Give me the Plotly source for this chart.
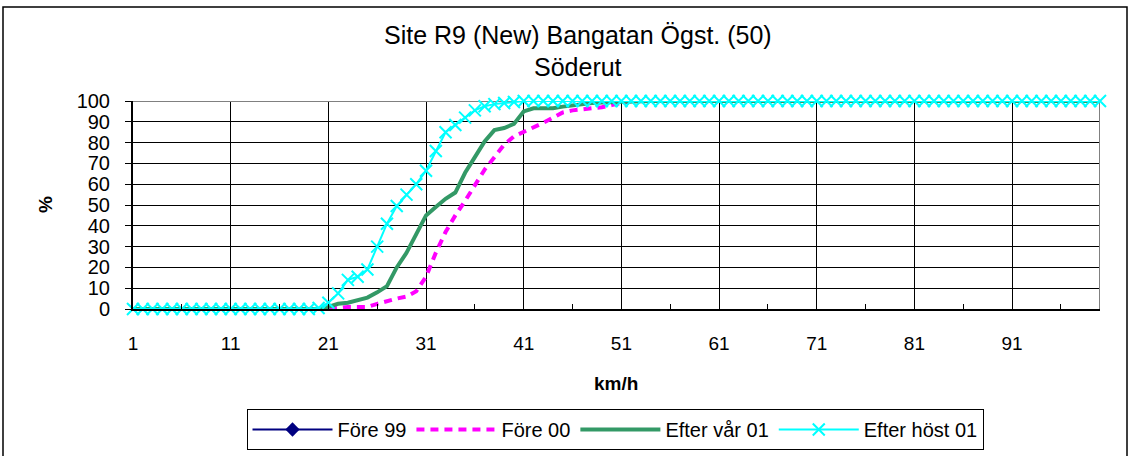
import plotly.graph_objects as go

# ---- data ----
speed = list(range(1, 101))

fore_99 = [None] * 100

fore_00 = ([0] * 21 +
           [0.5, 1, 1, 1, 2.5, 4, 5, 6, 8.5, 15.5, 27, 37, 45, 52, 59.5, 67, 73, 79, 83,
            85, 87, 89.5, 92, 94.5, 95.5, 96, 96.5, 97, 98, 99] +
           [100] * 49)

efter_var_01 = ([0] * 20 +
                [1, 2.5, 3, 4.5, 5.5, 8, 11, 20, 27, 36, 45, 49, 53, 56, 65.5, 73, 80.5, 86, 87, 89,
                 95, 96.5, 96.5, 96.5, 97.3, 98, 98.5, 99, 99.3, 99.5, 99.8] +
                [100] * 49)

efter_host_01 = ([0] * 19 +
                 [0.5, 3, 7.5, 14, 15.5, 19, 30, 41, 49.5, 55, 60, 66.5, 76, 85, 88.5, 92, 95.5,
                  97.5, 98.5, 99, 99.5] +
                 [100] * 60)

x_ticks = list(range(1, 101, 10))
y_ticks = list(range(0, 101, 10))

FONT = "Liberation Sans, Arial, sans-serif"

fig = go.Figure()
fig.add_trace(go.Scatter(x=speed, y=fore_99, name="Före 99", mode="lines+markers",
                         line=dict(color="#000080", width=2),
                         marker=dict(symbol="diamond", size=11, color="#000080")))
fig.add_trace(go.Scatter(x=speed, y=fore_00, name="Före 00", mode="lines",
                         line=dict(color="#FF00FF", width=4, dash="8px,6px")))
fig.add_trace(go.Scatter(x=speed, y=efter_var_01, name="Efter vår 01", mode="lines",
                         line=dict(color="#339966", width=4)))
fig.add_trace(go.Scatter(x=speed, y=efter_host_01, name="Efter höst 01", mode="lines+markers",
                         line=dict(color="#00FFFF", width=2),
                         marker=dict(symbol="x-thin", size=12, color="#00FFFF",
                                     line=dict(color="#00FFFF", width=2)),
                         cliponaxis=False))

L, R, T, B = 133, 30, 101, 147
W, H = 1130, 456
pw, ph = W - L - R, H - T - B

def px_x(p):
    return (p - L) / pw

def px_y(p):
    return (H - B - p) / ph

fig.update_layout(
    width=W, height=H,
    margin=dict(l=L, r=R, t=T, b=B, autoexpand=False),
    paper_bgcolor="white", plot_bgcolor="white",
    font=dict(family=FONT, color="black"),
    showlegend=True,
    legend=dict(orientation="h", x=px_x(615), xanchor="center", y=px_y(409), yanchor="top",
                bordercolor="black", borderwidth=1, font=dict(size=20, family=FONT),
                itemwidth=80, traceorder="normal", bgcolor="white"),
    xaxis=dict(range=[1, 100], tickmode="array", tickvals=x_ticks,
               ticktext=[str(v) for v in x_ticks],
               showgrid=True, gridcolor="black", gridwidth=1,
               showline=True, linecolor="black", linewidth=2,
               ticks="inside", ticklen=5, tickcolor="black",
               minor=dict(ticks="inside", ticklen=5, dtick=5, tick0=1, tickcolor="black",
                          showgrid=False),
               tickfont=dict(size=19, family=FONT), ticklabelstandoff=16,
               zeroline=False),
    yaxis=dict(range=[0, 100], tickmode="array", tickvals=y_ticks,
               showgrid=True, gridcolor="black", gridwidth=1,
               showline=True, linecolor="black", linewidth=2,
               ticks="outside", ticklen=6, tickcolor="black",
               tickfont=dict(size=20, family=FONT), ticklabelstandoff=11,
               zeroline=False),
    annotations=[
        dict(text="Site R9 (New) Bangatan Ögst. (50)", xref="paper", yref="paper",
             x=px_x(578), y=px_y(35), xanchor="center", yanchor="middle",
             showarrow=False, font=dict(size=25, family=FONT)),
        dict(text="Söderut", xref="paper", yref="paper",
             x=px_x(578), y=px_y(66.5), xanchor="center", yanchor="middle",
             showarrow=False, font=dict(size=25, family=FONT)),
        dict(text="<b>%</b>", xref="paper", yref="paper", x=px_x(45), y=px_y(205),
             xanchor="center", yanchor="middle", textangle=-90, showarrow=False,
             font=dict(size=19, family=FONT)),
        dict(text="<b>km/h</b>", xref="paper", yref="paper", x=px_x(616), y=px_y(383),
             xanchor="center", yanchor="middle", showarrow=False,
             font=dict(size=19, family=FONT)),
    ],
    shapes=[
        dict(type="rect", xref="paper", yref="paper", x0=px_x(3), x1=px_x(1127),
             y0=px_y(470), y1=px_y(7), line=dict(color="black", width=1.5), layer="below"),
        dict(type="path", xref="x", yref="y", path="M 1,100 L 100,100 L 100,0",
             line=dict(color="#808080", width=2), layer="between"),
    ],
)

fig.write_html("out.html")
